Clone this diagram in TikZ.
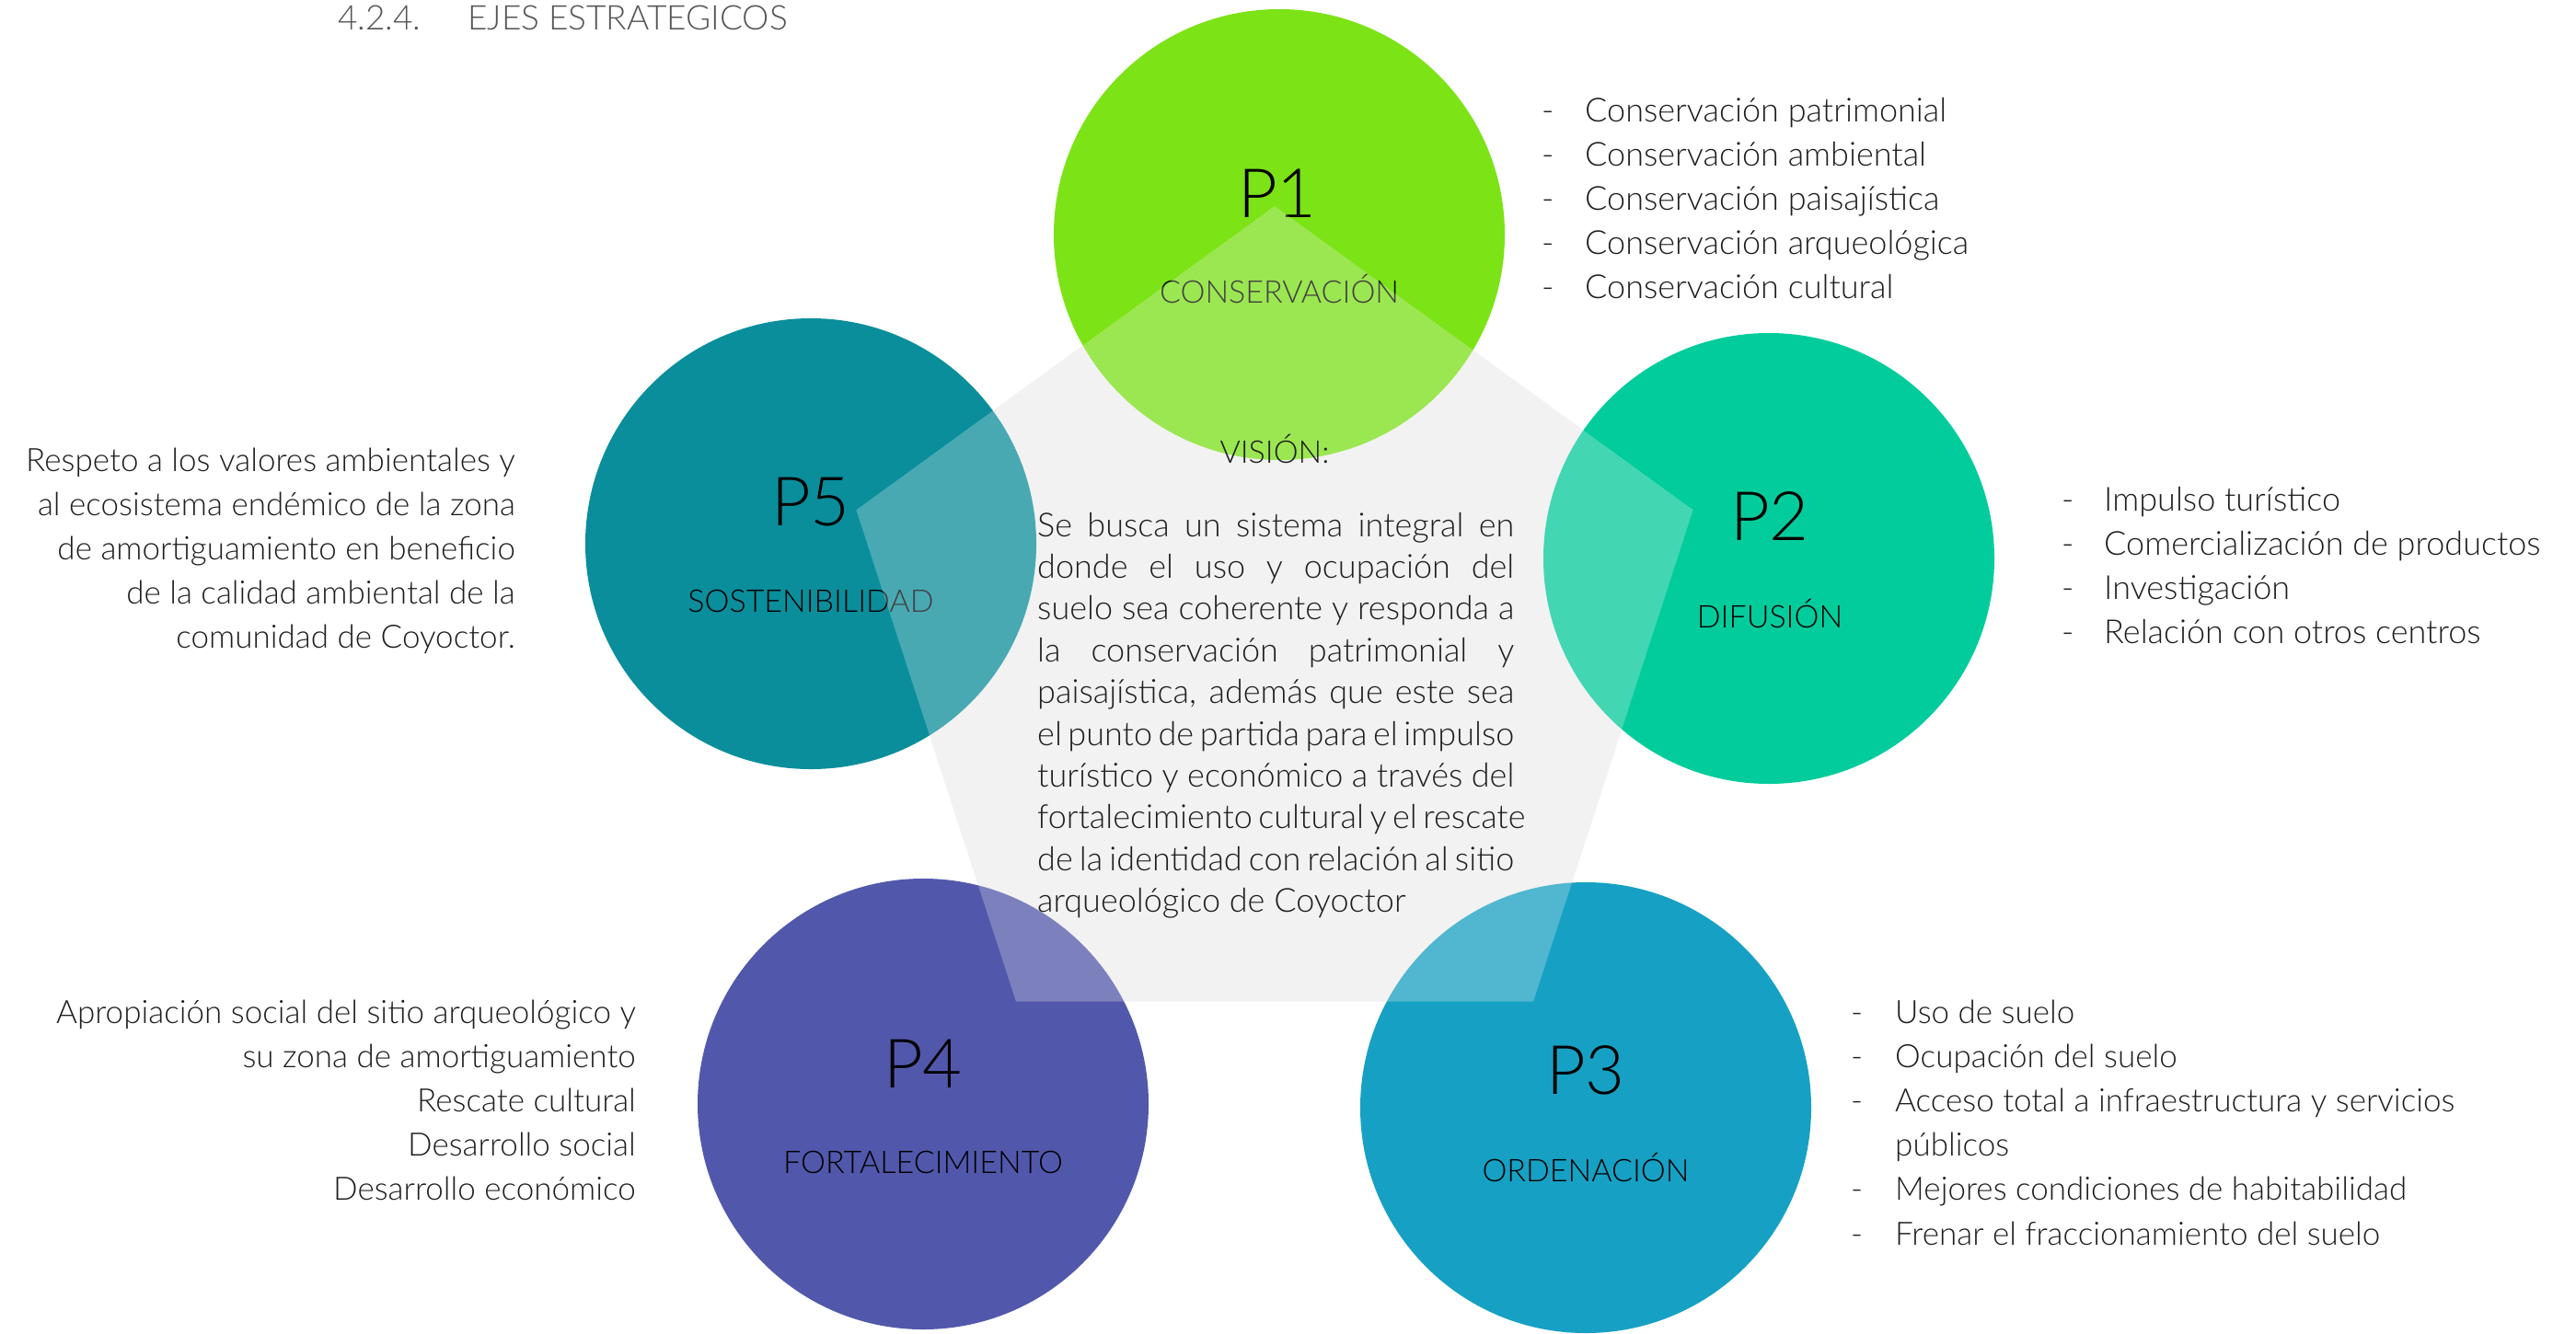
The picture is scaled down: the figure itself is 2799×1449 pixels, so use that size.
\documentclass[tikz,border=0pt]{standalone}
\usepackage{fontspec}
\IfFontExistsTF{Lato Light}{\setmainfont{Lato Light}}{\setmainfont{TeX Gyre Heros}}
\definecolor{cPone}{HTML}{7CE316}
\definecolor{cPtwo}{HTML}{03CC9C}
\definecolor{cPthree}{HTML}{16A1C4}
\definecolor{cPfour}{HTML}{5158AB}
\definecolor{cPfive}{HTML}{0A8E9C}
\definecolor{pent}{HTML}{F2F2F2}
\definecolor{txt}{HTML}{1E1E1E}
\definecolor{ttl}{HTML}{555555}
\begin{document}
\begin{tikzpicture}[x=1pt,y=-1pt,
  disc/.style={circle, minimum size=490pt, inner sep=0pt, draw=none},
  lst/.style={anchor=base west, inner sep=0pt, text=txt, font=\fontsize{36}{48}\selectfont},
  lsts/.style={anchor=base west, inner sep=0pt, text=txt, font=\fontsize{35}{48}\selectfont},
  lstr/.style={anchor=base east, inner sep=0pt, text=txt, font=\fontsize{35}{48}\selectfont},
  para/.style={anchor=base west, inner sep=0pt, text=txt, font=\fontsize{36}{45}\selectfont},
  big/.style={anchor=base, inner sep=0pt, text=black, font=\fontsize{74}{80}\selectfont},
  sub/.style={anchor=base, inner sep=0pt, text=black, font=\fontsize{34}{38}\selectfont},
  ttlstyle/.style={anchor=base west, inner sep=0pt, text=ttl, font=\fontsize{37}{40}\selectfont}
]
\useasboundingbox (0,0) rectangle (2799,1449);
\fill[white] (0,0) rectangle (2799,1449);

% title
\node[ttlstyle] (t1) at (367,32) {4.2.4.};
\node[ttlstyle] (t2) at (508,32) {EJES ESTRATEGICOS};

% pentagon vertices
\coordinate (pA) at (1385,224);
\coordinate (pB) at (1839.6,554.3);
\coordinate (pC) at (1666,1088.7);
\coordinate (pD) at (1104,1088.7);
\coordinate (pE) at (930.4,554.3);
\fill[pent] (pA)--(pB)--(pC)--(pD)--(pE)--cycle;

% circles
\node[disc, fill=cPone]   (c1) at (1390,255) {};
\node[disc, fill=cPtwo]   (c2) at (1922,607) {};
\node[disc, fill=cPthree] (c3) at (1723,1204) {};
\node[disc, fill=cPfour]  (c4) at (1003,1200) {};
\node[disc, fill=cPfive]  (c5) at (881,591) {};

% circle labels
\node[big] (n1) at (1388,236) {P1};
\node[sub] (s1) at (1390,329) {CONSERVACIÓN};
\node[big] (n2) at (1923,587) {P2};
\node[sub] (s2) at (1923,682) {DIFUSIÓN};
\node[big] (n3) at (1723,1189) {P3};
\node[sub] (s3) at (1723,1284) {ORDENACIÓN};
\node[big] (n4) at (1003,1182) {P4};
\node[sub] (s4) at (1003,1275) {FORTALECIMIENTO};
\node[big] (n5) at (881,571) {P5};
\node[sub] (s5) at (881,665) {SOSTENIBILIDAD};

% translucent pentagon on top
\fill[pent, opacity=0.27] (pA)--(pB)--(pC)--(pD)--(pE)--cycle;

% vision
\node[sub, text=txt] (vis) at (1385,503) {VISIÓN:};
\node[para] (v1) at (1127,583) {\makebox[518pt][s]{Se busca un sistema integral en}};
\node[para] (v2) at (1127,628.4) {\makebox[518pt][s]{donde el uso y ocupación del}};
\node[para] (v3) at (1127,673.8) {\makebox[518pt][s]{suelo sea coherente y responda a}};
\node[para] (v4) at (1127,719.2) {\makebox[518pt][s]{la conservación patrimonial y}};
\node[para] (v5) at (1127,764.6) {\makebox[518pt][s]{paisajística, además que este sea}};
\node[para] (v6) at (1127,810) {\makebox[518pt][s]{el punto de partida para el impulso}};
\node[para] (v7) at (1127,855.4) {\makebox[518pt][s]{turístico y económico a través del}};
\node[para] (v8) at (1127,900.8) {\makebox[518pt][s]{fortalecimiento cultural y el rescate}};
\node[para] (v9) at (1127,946.2) {\makebox[518pt][s]{de la identidad con relación al sitio}};
\node[para] (v10) at (1127,991.6) {arqueológico de Coyoctor};

% P1 list
\node[lst] (a1d) at (1675,132) {-};
\node[lst] (a1) at (1722,132) {Conservación patrimonial};
\node[lst] (a2d) at (1675,180) {-};
\node[lst] (a2) at (1722,180) {Conservación ambiental};
\node[lst] (a3d) at (1675,228) {-};
\node[lst] (a3) at (1722,228) {Conservación paisajística};
\node[lst] (a4d) at (1675,276) {-};
\node[lst] (a4) at (1722,276) {Conservación arqueológica};
\node[lst] (a5d) at (1675,324) {-};
\node[lst] (a5) at (1722,324) {Conservación cultural};

% P2 list
\node[lst] (b1d) at (2240,555) {-};
\node[lst] (b1) at (2286,555) {Impulso turístico};
\node[lst] (b2d) at (2240,603) {-};
\node[lst] (b2) at (2286,603) {Comercialización de productos};
\node[lst] (b3d) at (2240,651) {-};
\node[lst] (b3) at (2286,651) {Investigación};
\node[lst] (b4d) at (2240,699) {-};
\node[lst] (b4) at (2286,699) {Relación con otros centros};

% P3 list
\node[lsts] (d1d) at (2011,1112) {-};
\node[lsts] (d1) at (2059,1112) {Uso de suelo};
\node[lsts] (d2d) at (2011,1160) {-};
\node[lsts] (d2) at (2059,1160) {Ocupación del suelo};
\node[lsts] (d3d) at (2011,1208) {-};
\node[lsts] (d3) at (2059,1208) {Acceso total a infraestructura y servicios};
\node[lsts] (d3b) at (2059,1256) {públicos};
\node[lsts] (d4d) at (2011,1304) {-};
\node[lsts] (d4) at (2059,1304) {Mejores condiciones de habitabilidad};
\node[lsts] (d5d) at (2011,1353) {-};
\node[lsts] (d5) at (2059,1353) {Frenar el fraccionamiento del suelo};

% P4 list
\node[lstr] (e1) at (691,1112) {Apropiación social del sitio arqueológico y};
\node[lstr] (e2) at (691,1160) {su zona de amortiguamiento};
\node[lstr] (e3) at (691,1208) {Rescate cultural};
\node[lstr] (e4) at (691,1256) {Desarrollo social};
\node[lstr] (e5) at (691,1304) {Desarrollo económico};

% P5 text
\node[lstr] (f1) at (560,512) {Respeto a los valores ambientales y};
\node[lstr] (f2) at (560,560) {al ecosistema endémico de la zona};
\node[lstr] (f3) at (560,608) {de amortiguamiento en beneficio};
\node[lstr] (f4) at (560,656) {de la calidad ambiental de la};
\node[lstr] (f5) at (560,704) {comunidad de Coyoctor.};
\end{tikzpicture}
\end{document}
